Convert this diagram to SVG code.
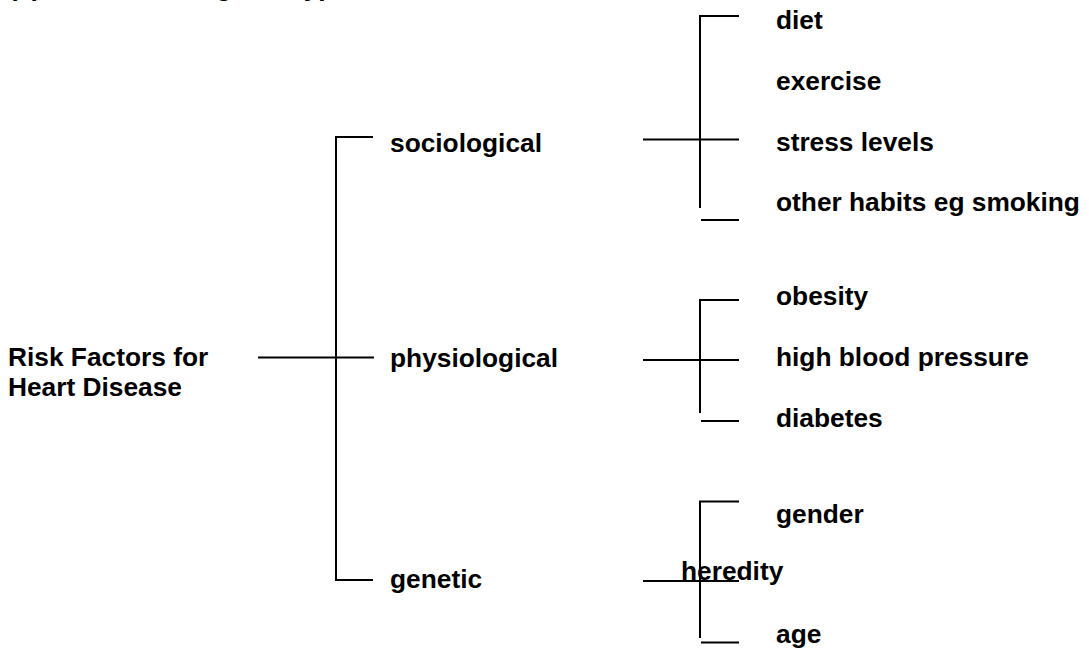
<svg xmlns="http://www.w3.org/2000/svg" width="1089" height="649" viewBox="0 0 1089 649">
<style>
text{font-family:"Liberation Sans",Arial,sans-serif;font-weight:bold;font-size:26.3px;fill:#000}
.c line{stroke:#000;stroke-width:2;fill:none}
</style>
<rect width="1089" height="649" fill="#fff"/>
<g id="title"><text x="8.6" y="-4">(c) The Branching tree type</text></g>
<g class="c" id="connectors">
<line x1="258" y1="357.5" x2="374" y2="357.5"/>
<line x1="336" y1="137" x2="336" y2="580"/>
<line x1="335" y1="137" x2="373" y2="137"/>
<line x1="335" y1="580" x2="373" y2="580"/>
<line x1="700" y1="16" x2="700" y2="208"/>
<line x1="699" y1="16" x2="739" y2="16"/>
<line x1="643" y1="139.5" x2="739" y2="139.5"/>
<line x1="701" y1="220" x2="739" y2="220"/>
<line x1="700" y1="299.5" x2="700" y2="413"/>
<line x1="699" y1="300" x2="739" y2="300"/>
<line x1="643" y1="360" x2="739" y2="360"/>
<line x1="701" y1="421" x2="739" y2="421"/>
<line x1="700" y1="501.5" x2="700" y2="638"/>
<line x1="699" y1="501.5" x2="739" y2="501.5"/>
<line x1="643" y1="581" x2="739" y2="581"/>
<line x1="701" y1="642.5" x2="739" y2="642.5"/>
</g>
<g id="root"><text x="8" y="366">Risk Factors for</text><text x="8" y="396">Heart Disease</text></g>
<g id="sociological"><text x="390" y="152">sociological</text></g>
<g id="physiological"><text x="390" y="367">physiological</text></g>
<g id="genetic"><text x="390" y="588">genetic</text></g>
<g id="diet"><text x="776" y="29">diet</text></g>
<g id="exercise"><text x="776" y="90">exercise</text></g>
<g id="stress"><text x="776" y="151">stress levels</text></g>
<g id="habits"><text x="776" y="211">other habits eg smoking</text></g>
<g id="obesity"><text x="776" y="305">obesity</text></g>
<g id="bp"><text x="776" y="366">high blood pressure</text></g>
<g id="diabetes"><text x="776" y="427">diabetes</text></g>
<g id="gender"><text x="776" y="523">gender</text></g>
<g id="heredity"><text x="681" y="580">heredity</text></g>
<g id="age"><text x="776" y="643">age</text></g>
</svg>
